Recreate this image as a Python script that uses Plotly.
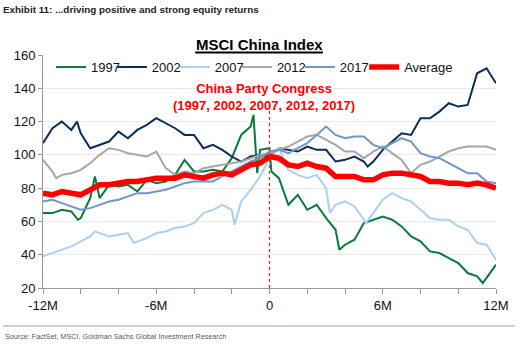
import plotly.graph_objects as go

# x positions: months relative to the China Party Congress
months = [-12 + 0.5 * i for i in range(49)]

v1997 = [65, 65, 67, 66, 62, 74, 74, 82, 81, 82, 78, 85, 83, 84, 88, 97, 90,
         90, 91, 90, 98, 112, 117, 103, 104, 86, 70, 76, 67, 70, 62, 55, 46,
         49, 59, 61, 63, 61, 57, 51, 48, 42, 41, 38, 35, 29, 27, 26, 34]
v2002 = [107, 116, 120, 115, 113, 104, 106, 108, 114, 110, 115, 118, 122, 119, 116, 112, 112,
         104, 106, 103, 99, 96, 99, 100, 99, 104, 103, 102, 105, 103, 103, 96, 97,
         99, 96, 96, 103, 108, 113, 112, 122, 122, 126, 131, 129, 130, 149, 152, 143]
v2007 = [39, 41, 43, 45, 48, 51, 53, 51, 52, 53, 48, 50, 53, 54, 56, 57, 59,
         65, 67, 70, 67, 72, 79, 87, 98, 104, 91, 88, 86, 88, 80, 70, 72,
         69, 61, 65, 73, 77, 74, 72, 67, 62, 61, 61, 57, 55, 47, 46, 37]
v2012 = [97, 90, 88, 89, 91, 95, 100, 104, 103, 101, 100, 99, 102, 92, 88, 90, 89,
         92, 93, 94, 95, 96, 98, 100, 101, 103, 105, 108, 111, 112, 109, 106, 102,
         102, 98, 102, 105, 101, 97, 89, 94, 96, 99, 102, 104, 105, 105, 105, 103]
v2017 = [72, 73, 71, 69, 67, 68, 70, 72, 73, 75, 77, 77, 78, 79, 81, 83, 84,
         84, 84, 87, 90, 93, 96, 98, 102, 103, 101, 104, 107, 112, 117, 112, 110,
         111, 111, 106, 104, 107, 110, 108, 101, 99, 98, 95, 92, 89, 89, 84, 83]
vavg = [77, 76, 78, 77, 76, 79, 82, 82, 83, 84, 84, 85, 86, 86, 86, 88, 87,
        86, 88, 89, 88, 91, 94, 95, 99, 98, 94, 93, 95, 93, 92, 87, 87,
        87, 85, 85, 88, 89, 89, 88, 87, 84, 84, 83, 83, 82, 83, 82, 80]

# extra readings at sharp spikes / dips (month, value)
spikes_1997 = [(-10.15, 61), (-9.25, 87), (-0.85, 124), (-0.65, 89), (0.1, 90), (3.7, 43), (11.3, 23)]
spikes_2002 = [(-10.2, 120), (5.2, 93)]
spikes_2007 = [(-9.25, 54), (-7.2, 47), (-1.85, 58), (3.2, 65), (5.1, 59)]
spikes_2012 = [(-11.3, 86)]
spikes_2017 = []
spikes_avg = []

names = ["1997", "2002", "2007", "2012", "2017", "Average"]
colors = ["#0A7A3C", "#0B2D5A", "#A9D1F2", "#A6A6A6", "#6E97CB", "#FF0000"]
widths = [2, 2, 2, 2, 2, 5.5]
legends = ["legend", "legend2", "legend3", "legend4", "legend5", "legend6"]
legend_x = [0.0177, 0.152, 0.291, 0.428, 0.567, 0.709]
series = [v1997, v2002, v2007, v2012, v2017, vavg]
spikes = [spikes_1997, spikes_2002, spikes_2007, spikes_2012, spikes_2017, spikes_avg]

x_ticks = [-12, -10, -8, -6, -4, -2, 0, 2, 4, 6, 8, 10, 12]
x_labels = ["-12M", "", "", "-6M", "", "", "0", "", "", "6M", "", "", "12M"]
y_ticks = [20, 40, 60, 80, 100, 120, 140, 160]

fig = go.Figure()
for name, col, w, lg, vals, sp in zip(names, colors, widths, legends, series, spikes):
    pts = sorted(list(zip(months, vals)) + sp)
    fig.add_trace(go.Scatter(
        x=[p[0] for p in pts], y=[p[1] for p in pts], name=name, mode="lines",
        line=dict(color=col, width=w), legend=lg))

fig.add_shape(type="line", x0=0, x1=0, y0=20, y1=131, xref="x", yref="y",
              line=dict(color="#FF2020", width=1.2, dash="dot"))

fig.add_annotation(x=-0.3, y=135, xref="x", yref="y", showarrow=False,
                   text="<b>China Party Congress<br>(1997, 2002, 2007, 2012, 2017)</b>",
                   font=dict(family="Liberation Sans, Arial", size=13, color="#FF0000"),
                   yanchor="middle")
fig.add_annotation(x=0.477, y=1.047, xref="paper", yref="paper", showarrow=False,
                   text="<b>MSCI China Index</b>",
                   font=dict(family="Liberation Sans, Arial", size=15, color="#000000"),
                   yanchor="middle")
fig.add_shape(type="line", x0=0.336, x1=0.618, y0=1.011, y1=1.011, xref="paper", yref="paper",
              line=dict(color="#000000", width=2))
fig.add_annotation(x=-0.088, y=-0.21, xref="paper", yref="paper", showarrow=False,
                   xanchor="left", yanchor="middle",
                   text="Source: FactSet, MSCI, Goldman Sachs Global Investment Research",
                   font=dict(family="Liberation Sans, Arial", size=7.2, color="#595959"))
fig.add_shape(type="line", x0=-0.088, x1=1.042, y0=-0.163, y1=-0.163, xref="paper", yref="paper",
              line=dict(color="#A0A0A0", width=1))

legend_font = dict(family="Liberation Sans, Arial", size=13, color="#111111")
legend_layout = {
    lg: dict(orientation="h", x=lx, xanchor="left", y=0.948, yanchor="middle",
             bgcolor="rgba(0,0,0,0)", itemwidth=30, font=legend_font)
    for lg, lx in zip(legends, legend_x)
}

fig.update_layout(
    width=522, height=355,
    margin=dict(l=43, r=26, t=55, b=67),
    paper_bgcolor="white", plot_bgcolor="white",
    title=dict(text="<b>Exhibit 11: ...driving positive and strong equity returns</b>",
               x=3 / 522, xanchor="left", xref="container",
               y=1 - 10 / 355, yanchor="middle", yref="container",
               font=dict(family="Liberation Sans, Arial", size=9.9, color="#222222")),
    showlegend=True,
    xaxis=dict(range=[-12, 12], tickvals=x_ticks, ticktext=x_labels, ticks="outside",
               ticklen=5, tickcolor="#999999", showline=True, linecolor="#999999",
               showgrid=False, zeroline=False,
               tickfont=dict(family="Liberation Sans, Arial", size=13, color="#111111")),
    yaxis=dict(range=[20, 160], tickvals=y_ticks, ticks="outside", ticklen=4,
               tickcolor="#999999", showline=True, linecolor="#999999",
               showgrid=True, gridcolor="#EBEBEB", zeroline=False,
               tickfont=dict(family="Liberation Sans, Arial", size=13, color="#111111")),
    **legend_layout,
)

fig.write_html("out.html", config={"displayModeBar": False},
               post_script="document.body.style.margin='0';")
